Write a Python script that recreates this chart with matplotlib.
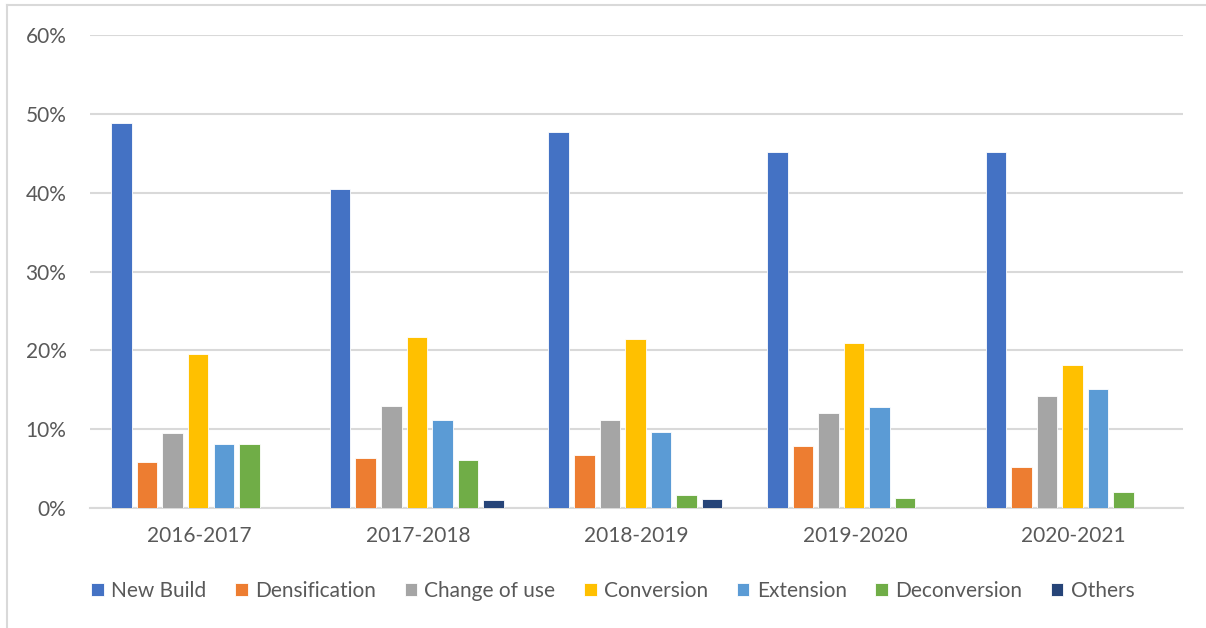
import matplotlib
matplotlib.use("Agg")
import matplotlib.pyplot as plt
from matplotlib.lines import Line2D
from matplotlib.ticker import PercentFormatter
import numpy as np

periods = ["2016-2017", "2017-2018", "2018-2019", "2019-2020", "2020-2021"]
series_names = ["New Build", "Densification", "Change of use", "Conversion",
                "Extension", "Deconversion", "Others"]

new_build = [48.8, 40.5, 47.7, 45.1, 45.1]
densification = [5.8, 6.3, 6.7, 7.9, 5.2]
change_of_use = [9.5, 12.9, 11.1, 12.1, 14.2]
conversion = [19.5, 21.7, 21.5, 20.9, 18.1]
extension = [8.1, 11.2, 9.7, 12.8, 15.1]
deconversion = [8.1, 6.1, 1.6, 1.3, 2.0]
others = [0.0, 1.05, 1.2, 0.0, 0.0]

series_values = [new_build, densification, change_of_use, conversion,
                 extension, deconversion, others]
colors = ["#4472C4", "#ED7D31", "#A5A5A5", "#FFC000", "#5B9BD5", "#70AD47", "#264478"]

plt.rcParams["font.family"] = ["Lato", "DejaVu Sans"]
text_color = "#595959"
grid_color = "#D9D9D9"

fig = plt.figure(figsize=(12.06, 6.28), dpi=100)
ax = fig.add_axes([90 / 1206, 1 - 508 / 628, (1183 - 90) / 1206, (508 - 35) / 628])

x = np.arange(len(periods))
pitch = 0.117
width = 0.094
for i, (name, vals, c) in enumerate(zip(series_names, series_values, colors)):
    offs = (i - 3) * pitch - 0.005
    ax.bar(x + offs, vals, width, color=c, label=name, edgecolor="white",
           linewidth=0.6, zorder=3)

ax.set_xlim(-0.5, len(periods) - 0.5)
ax.set_ylim(0, 60)
ax.set_yticks(np.arange(0, 61, 10))
ax.yaxis.set_major_formatter(PercentFormatter(decimals=0))
ax.set_xticks(x)
ax.set_xticklabels(periods)
ax.grid(axis="y", color=grid_color, linewidth=1.5, zorder=0)
ax.set_axisbelow(True)
for side in ["top", "right", "left"]:
    ax.spines[side].set_visible(False)
ax.spines["bottom"].set_color(grid_color)
ax.spines["bottom"].set_linewidth(1.5)
ax.tick_params(axis="both", length=0, labelsize=15, colors=text_color)
ax.tick_params(axis="y", pad=17)
ax.tick_params(axis="x", pad=13)

leg = fig.legend(*ax.get_legend_handles_labels(), loc="center",
                 bbox_to_anchor=(0.5 + 10 / 1206, 1 - 591 / 628), ncol=7, frameon=False,
                 fontsize=15, handlelength=0.6, handleheight=0.6,
                 handletextpad=0.35, columnspacing=1.38)
for t in leg.get_texts():
    t.set_color(text_color)

# outer chart frame
fig.add_artist(Line2D([7 / 1206, 1.0], [1 - 5 / 628, 1 - 5 / 628], color=grid_color,
                      linewidth=1.5, transform=fig.transFigure))
fig.add_artist(Line2D([7 / 1206, 7 / 1206], [0, 1 - 5 / 628], color=grid_color,
                      linewidth=1.5, transform=fig.transFigure))

fig.savefig("out.png", dpi=100, facecolor="white")
